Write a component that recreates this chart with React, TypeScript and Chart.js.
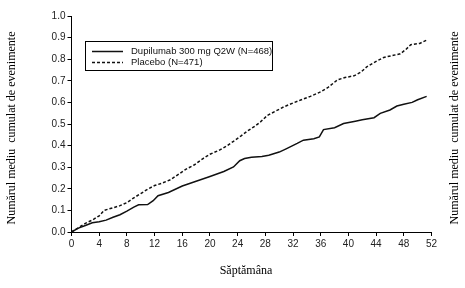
import React, { useEffect, useRef } from "react";
import { Chart, registerables } from "chart.js";

Chart.register(...registerables);

const xTickValues = [0, 4, 8, 12, 16, 20, 24, 28, 32, 36, 40, 44, 48, 52];
const yTickValues = [0, 0.1, 0.2, 0.3, 0.4, 0.5, 0.6, 0.7, 0.8, 0.9, 1.0];

const dupiLabel = "Dupilumab 300 mg Q2W (N=468)";
const placeboLabel = "Placebo (N=471)";
const yTitle = "Numărul mediu  cumulat de evenimente";
const xTitle = "Săptămâna";

const dupiWeeks = [0, 1, 2, 3, 4, 5, 6, 7, 8, 9, 9.7, 11, 11.8, 12.5, 14, 16, 18, 20, 22, 23.4, 24.3, 25, 26, 27.5, 28.5, 30, 31, 32.6, 33.5, 35, 35.8, 36.4, 38, 39.3, 41, 42, 43.7, 44.6, 46, 47, 48, 49.2, 50, 51.3];
const dupiValues = [0, 0.018, 0.03, 0.043, 0.047, 0.055, 0.068, 0.08, 0.097, 0.115, 0.126, 0.127, 0.145, 0.168, 0.183, 0.213, 0.235, 0.257, 0.28, 0.301, 0.33, 0.34, 0.346, 0.35, 0.355, 0.37, 0.385, 0.41, 0.425, 0.432, 0.44, 0.474, 0.483, 0.502, 0.513, 0.52, 0.529, 0.549, 0.565, 0.583, 0.591, 0.6, 0.612, 0.628];

const placeboWeeks = [0, 1, 2, 3, 4, 4.7, 6, 7, 8, 9, 10, 11, 12, 13, 14.3, 15.5, 16.5, 17.7, 19, 20, 21.5, 22.5, 23.4, 24.5, 25.4, 26.5, 27.3, 28.3, 29.5, 30.7, 32, 33.1, 34.5, 36, 37, 38.4, 39.5, 40.8, 41.8, 42.7, 44, 45.1, 46.5, 47.5, 48.3, 49, 50.3, 51.3];
const placeboValues = [0, 0.02, 0.04, 0.055, 0.075, 0.1, 0.112, 0.122, 0.136, 0.158, 0.178, 0.198, 0.215, 0.225, 0.242, 0.268, 0.29, 0.31, 0.34, 0.36, 0.381, 0.4, 0.42, 0.445, 0.467, 0.49, 0.51, 0.54, 0.56, 0.58, 0.597, 0.611, 0.628, 0.649, 0.668, 0.704, 0.715, 0.723, 0.74, 0.766, 0.79, 0.808, 0.818, 0.825, 0.845, 0.867, 0.873, 0.888];

const toPoints = (xs: number[], ys: number[]) => xs.map((x, i) => ({ x, y: ys[i] }));

const annotationsPlugin = {
  id: "customText",
  afterDraw(chart: any) {
    const ctx = chart.ctx as CanvasRenderingContext2D;
    ctx.save();
    ctx.fillStyle = "#000";
    ctx.font = '12px "Liberation Serif", "Times New Roman", serif';
    ctx.textAlign = "center";
    ctx.textBaseline = "middle";
    // left title
    ctx.save();
    ctx.translate(12, 128);
    ctx.rotate(-Math.PI / 2);
    ctx.fillText(yTitle, 0, 0);
    ctx.restore();
    // right title
    ctx.save();
    ctx.translate(455, 128);
    ctx.rotate(-Math.PI / 2);
    ctx.fillText(yTitle, 0, 0);
    ctx.restore();
    // x title
    ctx.fillText(xTitle, 246, 271);

    // legend box
    const ds = chart.data.datasets;
    ctx.strokeStyle = "#000";
    ctx.lineWidth = 1;
    ctx.strokeRect(85.5, 41.5, 187, 29);
    const rows = [51, 62];
    ctx.font = '9.5px "Liberation Sans", Arial, sans-serif';
    ctx.textAlign = "left";
    ds.forEach((d: any, i: number) => {
      const y = rows[i];
      ctx.beginPath();
      ctx.lineWidth = d.borderWidth;
      ctx.setLineDash(d.borderDash || []);
      ctx.strokeStyle = d.borderColor;
      ctx.moveTo(92, y + 0.5);
      ctx.lineTo(123, y + 0.5);
      ctx.stroke();
      ctx.setLineDash([]);
      ctx.fillStyle = "#111";
      ctx.fillText(d.label, 131, y + 0.5);
    });
    ctx.restore();
  },
};

export default function App() {
  const canvasRef = useRef<HTMLCanvasElement | null>(null);

  useEffect(() => {
    if (!canvasRef.current) return;
    const chart = new Chart(canvasRef.current, {
      type: "line",
      data: {
        datasets: [
          {
            label: dupiLabel,
            data: toPoints(dupiWeeks, dupiValues),
            borderColor: "#111",
            borderWidth: 1.5,
            pointRadius: 0,
            tension: 0,
            fill: false,
          },
          {
            label: placeboLabel,
            data: toPoints(placeboWeeks, placeboValues),
            borderColor: "#111",
            borderWidth: 1.5,
            borderDash: [3, 2],
            pointRadius: 0,
            tension: 0,
            fill: false,
          },
        ],
      },
      options: {
        animation: false,
        responsive: true,
        maintainAspectRatio: false,
        layout: { padding: { left: 0, right: 33.5, top: 16, bottom: 0 } },
        plugins: { legend: { display: false }, tooltip: { enabled: false } },
        scales: {
          x: {
            type: "linear",
            min: 0,
            max: 52,
            afterFit: (s: any) => { s.height = 56; },
            afterBuildTicks: (s: any) => { s.ticks = xTickValues.map((v) => ({ value: v })); },
            ticks: {
              color: "#222",
              font: { family: '"Liberation Sans", Arial, sans-serif', size: 10 },
              padding: 2,
              maxRotation: 0,
              autoSkip: false,
              callback: (v: any) => String(v),
            },
            grid: { drawOnChartArea: false, drawTicks: true, tickLength: 4, color: "#000" },
            border: { display: true, color: "#000", width: 1 },
          },
          y: {
            type: "linear",
            min: 0,
            max: 1,
            afterFit: (s: any) => { s.width = 71.5; },
            afterBuildTicks: (s: any) => { s.ticks = yTickValues.map((v) => ({ value: v })); },
            ticks: {
              color: "#222",
              font: { family: '"Liberation Sans", Arial, sans-serif', size: 10 },
              padding: 2,
              autoSkip: false,
              callback: (v: any) => Number(v).toFixed(1),
            },
            grid: { drawOnChartArea: false, drawTicks: true, tickLength: 4, color: "#000" },
            border: { display: true, color: "#000", width: 1 },
          },
        },
      },
      plugins: [annotationsPlugin],
    });
    return () => chart.destroy();
  }, []);

  return (
    <div style={{ position: "absolute", left: 0, top: 0, width: 465, height: 288, background: "#fff" }}>
      <canvas ref={canvasRef} />
    </div>
  );
}
